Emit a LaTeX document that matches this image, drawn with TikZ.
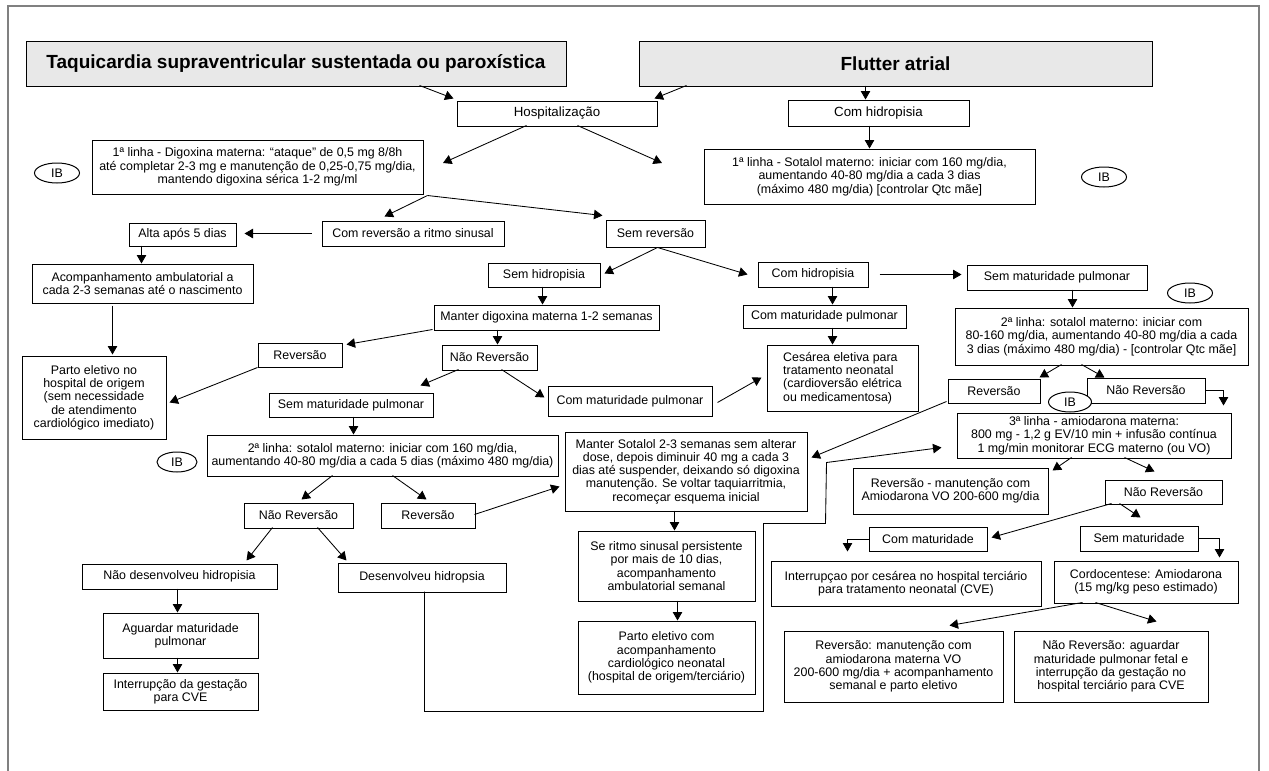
\documentclass[tikz,border=0pt]{standalone}
\usepackage{fontspec}
\setmainfont{Liberation Sans}
\usetikzlibrary{shapes.geometric,arrows.meta,calc}
\newcommand{\bodyfont}{\fontsize{12.4}{13.3}\selectfont}
\newcommand{\bigbodyfont}{\fontsize{13.3}{14}\selectfont}
\newcommand{\bx}[7][]{\node[box,#1,minimum width=#5pt,minimum height=#6pt] (#2) at ({#3+#5/2},{#4+#6/2}) {#7};}
\newcommand{\ib}[4][45]{\node[ibnode,minimum width=#1pt] (#2) at (#3,#4) {IB};}
\newcommand{\nw}[3]{($(#1.north west)+(#2,#3)$)}
\tikzset{
  box/.style={draw,line width=1pt,inner sep=0pt,align=center,fill=white,font=\bodyfont},
  titlebox/.style={fill=black!9,font=\bfseries\fontsize{19}{22}\selectfont},
  bigtext/.style={font=\bigbodyfont},
  ibnode/.style={ellipse,draw,line width=1pt,fill=white,inner sep=0pt,minimum height=20pt,font=\bodyfont},
  arr/.style={line width=0.85pt,-{Triangle[length=8.5pt,width=9.5pt]}},
  frame/.style={line width=1.6pt,draw=black!50}
}
\begin{document}
\begin{tikzpicture}[x=1pt,y=-1pt]
\useasboundingbox (0,0) rectangle (1269,771);
\draw[frame] (8,771) -- (8,6) -- (1259,6) -- (1259,771);
% titles
\bx[titlebox]{t1}{26}{41}{540}{45}{Taquicardia supraventricular sustentada ou paroxística}
\bx[titlebox]{t2}{639}{41}{513}{45}{Flutter atrial}
% boxes
\bx[bigtext]{hosp}{457}{101}{200}{25}{Hospitalização}
\bx{dig}{92}{140}{331}{54}{1ª linha - Digoxina materna: “ataque” de 0,5 mg 8/8h\\até completar 2-3 mg e manutenção de 0,25-0,75 mg/dia,\\mantendo digoxina sérica 1-2 mg/ml}
\bx[bigtext]{chid1}{788}{100}{181}{26}{Com hidropisia}
\bx{sot1}{704}{149}{331}{55}{1ª linha - Sotalol materno: iniciar com 160 mg/dia,\\aumentando 40-80 mg/dia a cada 3 dias\\(máximo 480 mg/dia) [controlar Qtc mãe]}
\bx{crev}{322}{221}{182}{25}{Com reversão a ritmo sinusal}
\bx{srev}{606}{220}{99}{27}{Sem reversão}
\bx{alta}{129}{223}{107}{23}{Alta após 5 dias}
\bx{acomp}{32}{264}{221}{39}{Acompanhamento ambulatorial a\\cada 2-3 semanas até o nascimento}
\bx{parto1}{22}{356}{144}{83}{Parto eletivo no\\hospital de origem\\(sem necessidade\\de atendimento\\cardiológico imediato)}
\bx{rev1}{258}{343}{84}{24}{Reversão}
\bx{shid}{488}{263}{112}{24}{Sem hidropisia}
\bx{chid2}{758}{262}{110}{25}{Com hidropisia}
\bx{smp1}{967}{265}{180}{25}{Sem maturidade pulmonar}
\bx{sot2}{955}{308}{293}{57}{2ª linha: sotalol materno: iniciar com\\80-160 mg/dia, aumentando 40-80 mg/dia a cada\\3 dias (máximo 480 mg/dia) - [controlar Qtc mãe]}
\bx{rev2}{948}{379}{92}{24}{Reversão}
\bx{nrev2}{1087}{378}{118}{25}{Não Reversão}
\bx{amio}{957}{413}{274}{45}{3ª linha - amiodarona materna:\\800 mg - 1,2 g EV/10 min + infusão contínua\\1 mg/min monitorar ECG materno (ou VO)}
\bx{revam}{853}{468}{195}{46}{Reversão - manutenção com\\Amiodarona VO 200-600 mg/dia}
\bx{nrev3}{1105}{480}{117}{24}{Não Reversão}
\bx{cmat}{869}{527}{118}{24}{Com maturidade}
\bx{smat}{1080}{526}{118}{25}{Sem maturidade}
\bx{interc}{771}{561}{270}{45}{Interrupçao por cesárea no hospital terciário\\para tratamento neonatal (CVE)}
\bx{cordo}{1054}{561}{184}{42}{Cordocentese: Amiodarona\\(15 mg/kg peso estimado)}
\bx{revf}{784}{631}{219}{71}{Reversão: manutenção com\\amiodarona materna VO\\200-600 mg/dia + acompanhamento\\semanal e parto eletivo}
\bx{nrevf}{1014}{631}{194}{71}{Não Reversão: aguardar\\maturidade pulmonar fetal e\\interrupção da gestação no\\hospital terciário para CVE}
\bx{mdig}{434}{305}{225}{25}{Manter digoxina materna 1-2 semanas}
\bx{nrev1}{442}{345}{95}{25}{Não Reversão}
\bx{smp2}{269}{393}{164}{24}{Sem maturidade pulmonar}
\bx{cmp1}{548}{386}{164}{30}{Com maturidade pulmonar}
\bx{cmp2}{743}{305}{163}{23}{Com maturidade pulmonar}
\bx[align=left]{ces}{767}{345}{151}{66}{Cesárea eletiva para\\tratamento neonatal\\(cardioversão elétrica\\ou medicamentosa)}
\bx{sotl}{207}{435}{351}{41}{2ª linha: sotalol materno: iniciar com 160 mg/dia,\\aumentando 40-80 mg/dia a cada 5 dias (máximo 480 mg/dia)}
\bx{nrev4}{244}{503}{109}{25}{Não Reversão}
\bx{rev3}{381}{503}{94}{25}{Reversão}
\bx{msot}{565}{432}{242}{79}{Manter Sotalol 2-3 semanas sem alterar\\dose, depois diminuir 40 mg a cada 3\\dias até suspender, deixando só digoxina\\manutenção. Se voltar taquiarritmia,\\recomeçar esquema inicial}
\bx{seri}{578}{531}{177}{70}{Se ritmo sinusal persistente\\por mais de 10 dias,\\acompanhamento\\ambulatorial semanal}
\bx{parto2}{578}{621}{177}{73}{Parto eletivo com\\acompanhamento\\cardiológico neonatal\\(hospital de origem/terciário)}
\bx{ndh}{82}{564}{195}{25}{Não desenvolveu hidropisia}
\bx{dh}{338}{563}{168}{29}{Desenvolveu hidropsia}
\bx{agu}{103}{613}{155}{45}{Aguardar maturidade\\pulmonar}
\bx{intg}{103}{673}{155}{37}{Interrupção da gestação\\para CVE}
% IB ellipses
\ib{ib1}{57}{173}
\ib{ib2}{1104}{177}
\ib{ib3}{1190}{293}
\ib[43]{ib4}{1070}{402}
\ib[40]{ib5}{177}{462}
% free ends
\coordinate (h1) at (443,163);
\coordinate (h2) at (662,163);
% arrows
\draw[arr] \nw{t1}{394}{45} -- \nw{hosp}{-3}{-2};
\draw[arr] \nw{t2}{48}{45} -- \nw{hosp}{198}{-2};
\draw[arr] \nw{hosp}{70}{25} -- (h1);
\draw[arr] \nw{hosp}{121}{25} -- (h2);
\draw[arr] \nw{t2}{227}{45} -- \nw{chid1}{78}{0};
\draw[arr] \nw{chid1}{82}{26} -- \nw{sot1}{166}{0};
\draw[arr] \nw{dig}{336}{56} -- \nw{crev}{63}{-4};
\draw[arr] \nw{dig}{336}{56} -- \nw{srev}{-3}{-4};
\draw[arr] \nw{crev}{-10}{13} -- \nw{alta}{116}{11};
\draw[arr] \nw{alta}{13}{23} -- \nw{acomp}{110}{0};
\draw[arr] \nw{acomp}{81}{42} -- \nw{parto1}{91}{-1};
\draw[arr] \nw{rev1}{0}{25} -- \nw{parto1}{148}{47};
\draw[arr] \nw{mdig}{-1}{25} -- \nw{rev1}{89}{2};
\draw[arr] \nw{srev}{52}{28} -- \nw{shid}{117}{11};
\draw[arr] \nw{srev}{52}{28} -- \nw{chid2}{-10}{13};
\draw[arr] \nw{chid2}{122}{13} -- \nw{smp1}{-5}{10};
\draw[arr] \nw{smp1}{106}{25} -- \nw{sot2}{118}{0};
\draw[arr] \nw{sot2}{107}{57} -- \nw{rev2}{92}{-1};
\draw[arr] \nw{sot2}{127}{57} -- \nw{nrev2}{18}{0};
\draw[arr] (nrev2.east) -| \nw{amio}{267}{-7};
\draw[arr] \nw{amio}{115}{45} -- \nw{revam}{200}{3};
\draw[arr] \nw{amio}{168}{45} -- \nw{nrev3}{50}{-8};
\draw[arr] \nw{nrev3}{7}{24} -- \nw{cmat}{123}{11};
\draw[arr] \nw{nrev3}{15}{24} -- \nw{smat}{61}{-8};
\draw[arr] (cmat.west) -| \nw{interc}{77}{-9};
\draw[arr] (smat.east) -| \nw{cordo}{166}{-3};
\draw[arr] \nw{cordo}{29}{42} -- \nw{revf}{166}{-5};
\draw[arr] \nw{cordo}{42}{42} -- \nw{nrevf}{143}{-9};
\draw[arr] \nw{shid}{55}{24} -- \nw{mdig}{109}{0};
\draw[arr] \nw{mdig}{64}{25} -- \nw{nrev1}{56}{0};
\draw[arr] \nw{nrev1}{17}{25} -- \nw{smp2}{152}{-7};
\draw[arr] \nw{nrev1}{60}{25} -- \nw{cmp1}{-3}{12};
\draw[arr] \nw{cmp1}{170}{17} -- \nw{ces}{-5}{33};
\draw[arr] \nw{chid2}{75}{25} -- \nw{cmp2}{90}{0};
\draw[arr] \nw{cmp2}{90}{23} -- \nw{ces}{66}{0};
\draw[arr] \nw{smp2}{85}{24} -- \nw{sotl}{147}{0};
\draw[arr] \nw{sotl}{126}{41} -- \nw{nrev4}{58}{-3};
\draw[arr] \nw{sotl}{186}{41} -- \nw{rev3}{46}{-3};
\draw[arr] \nw{rev3}{94}{12} -- \nw{msot}{-5}{55};
\draw[arr] \nw{rev2}{-1}{23} -- \nw{msot}{247}{26};
\draw[arr] \nw{dh}{87}{29} -- ++(0,120) -- ++(339,0) -- ++(0,-188) -- ++(62,0) -- ++(1,-61) -- \nw{amio}{-15}{35};
\draw[arr] \nw{msot}{110}{79} -- \nw{seri}{97}{0};
\draw[arr] \nw{seri}{100}{70} -- \nw{parto2}{100}{0};
\draw[arr] \nw{nrev4}{29}{25} -- \nw{ndh}{165}{-3};
\draw[arr] \nw{nrev4}{74}{25} -- \nw{dh}{9}{-2};
\draw[arr] \nw{ndh}{96}{25} -- \nw{agu}{75}{0};
\draw[arr] \nw{agu}{75}{45} -- \nw{intg}{75}{0};
\end{tikzpicture}
\end{document}
